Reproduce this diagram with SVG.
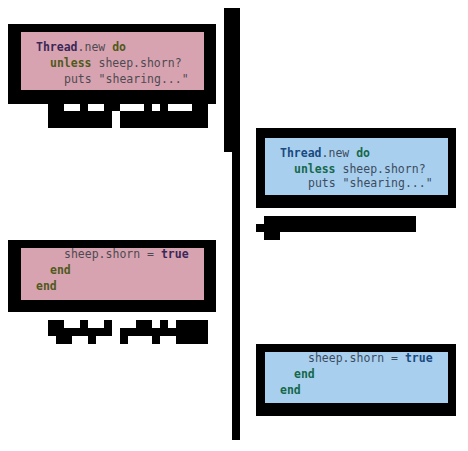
<svg xmlns="http://www.w3.org/2000/svg" width="468" height="451" viewBox="0 0 468 451">
<style>
.frame{fill:#000}
.pink{fill:#d8a3b0}
.blue{fill:#a9cfef}
.code{font-family:"DejaVu Sans Mono","Liberation Mono",monospace;font-size:11.5px}
.p .t{fill:#4e4a52}
.p .k{fill:#4f5a1c;font-weight:bold}
.p .c{fill:#3b2858;font-weight:bold}
.b .t{fill:#3c4c5e}
.b .k{fill:#15684a;font-weight:bold}
.b .c{fill:#184a80;font-weight:bold}
.redact{fill:#000}
</style>
<rect width="468" height="451" fill="#fff"/>
<g id="connectors">
<rect class="frame" x="224" y="8" width="16" height="144"/>
<rect class="frame" x="232" y="152" width="8" height="288"/>
</g>
<g id="node-thread-pink">
<rect class="frame" x="8" y="24" width="208" height="80"/>
<rect class="pink" x="21" y="32" width="183" height="58"/>
<text class="code p" x="36" y="51"><tspan class="c">Thread</tspan><tspan class="t">.new </tspan><tspan class="k">do</tspan></text>
<text class="code p" x="50" y="67"><tspan class="k">unless</tspan><tspan class="t"> sheep.shorn?</tspan></text>
<text class="code p" x="64" y="83"><tspan class="t">puts "shearing..."</tspan></text>
</g>
<g id="label-1">
<path class="redact" d="M48 104h16v7h-16z M80 104h8v7h-8z M104 104h16v7h-16z M144 104h8v7h-8z M160 104h8v7h-8z M192 104h16v7h-16z M48 111h64v17h-64z M120 111h88v17h-88z"/>
</g>
<g id="node-thread-blue">
<rect class="frame" x="256" y="128" width="200" height="80"/>
<rect class="blue" x="265" y="138" width="183" height="57"/>
<text class="code b" x="280" y="157"><tspan class="c">Thread</tspan><tspan class="t">.new </tspan><tspan class="k">do</tspan></text>
<text class="code b" x="294" y="173"><tspan class="k">unless</tspan><tspan class="t"> sheep.shorn?</tspan></text>
<text class="code b" x="308" y="187"><tspan class="t">puts "shearing..."</tspan></text>
</g>
<g id="label-2">
<path class="redact" d="M264 216h152v16h-152z M256 224h8v8h-8z M264 232h16v8h-16z"/>
</g>
<g id="node-shorn-pink">
<rect class="frame" x="8" y="240" width="208" height="72"/>
<rect class="pink" x="21" y="248" width="183" height="52"/>
<text class="code p" x="64" y="258"><tspan class="t">sheep.shorn = </tspan><tspan class="c">true</tspan></text>
<text class="code p" x="50" y="274"><tspan class="k">end</tspan></text>
<text class="code p" x="36" y="290"><tspan class="k">end</tspan></text>
</g>
<g id="label-3">
<path class="redact" d="M48 320h16v8h-16z M80 320h8v8h-8z M104 320h8v8h-8z M48 328h64v8h-64z M56 336h16v8h-16z M88 336h8v8h-8z M136 320h16v8h-16z M160 320h8v8h-8z M176 320h32v8h-32z M120 328h88v8h-88z M120 336h8v8h-8z M152 336h8v8h-8z M176 336h32v8h-32z"/>
</g>
<g id="node-shorn-blue">
<rect class="frame" x="256" y="344" width="200" height="72"/>
<rect class="blue" x="265" y="352" width="183" height="51"/>
<text class="code b" x="308" y="362"><tspan class="t">sheep.shorn = </tspan><tspan class="c">true</tspan></text>
<text class="code b" x="294" y="378"><tspan class="k">end</tspan></text>
<text class="code b" x="280" y="394"><tspan class="k">end</tspan></text>
</g>
</svg>
